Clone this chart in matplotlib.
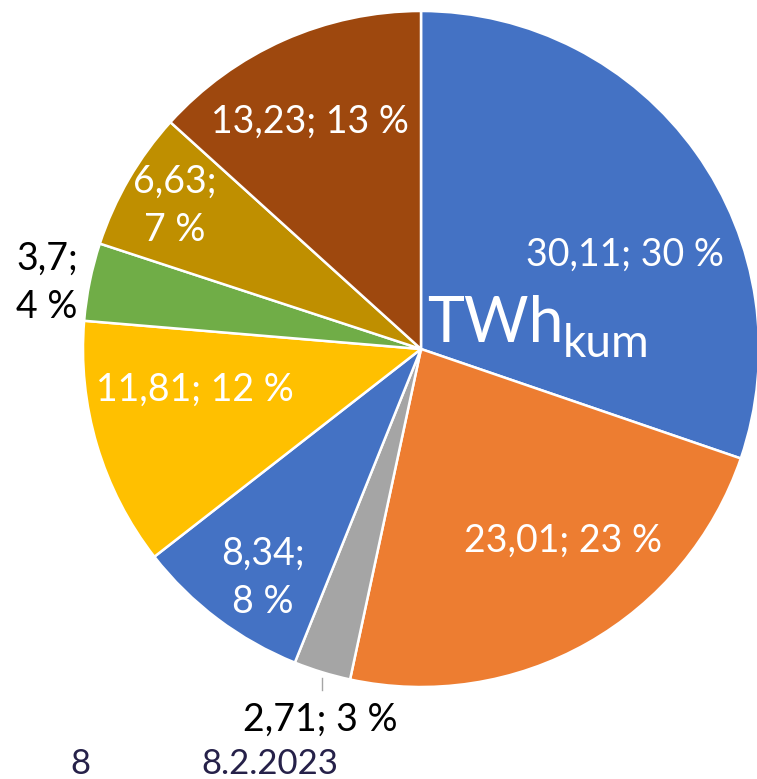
import matplotlib
matplotlib.use("Agg")
import matplotlib.pyplot as plt

values = [30.11, 23.01, 2.71, 8.34, 11.81, 3.7, 6.63, 13.23]
colors = ["#4472C4", "#ED7D31", "#A5A5A5", "#4472C4", "#FFC000", "#70AD47", "#BF8F00", "#9E480E"]
two_line = [False, False, False, True, False, True, True, False]
label_colors = ["white", "white", "black", "white", "white", "black", "white", "white"]
unit_main = "TWh"
unit_sub = "kum"
footer_page = "8"
footer_date = "8.2.2023"

W, H = 757, 779
fig = plt.figure(figsize=(W / 100, H / 100), dpi=100)
ax = fig.add_axes([0, 0, 1, 1])

cx, cy, r = 421, H - 349, 338
ax.pie(values, colors=colors, startangle=90, counterclock=False,
       center=(cx, cy), radius=r, frame=True,
       wedgeprops=dict(edgecolor="white", linewidth=1.8))
ax.set_xlim(0, W)
ax.set_ylim(0, H)
ax.set_aspect("equal")
ax.axis("off")

font = "Lato"
total = sum(values)
positions = [(625, 255), (563, 541), (320, 720), (263, 578), (195, 390), (47, 283), (175, 206), (310, 122)]
for v, tl, c, (px, py) in zip(values, two_line, label_colors, positions):
    num = ("%g" % v).replace(".", ",")
    pct = round(v / total * 100)
    sep = "\n" if tl else " "
    txt = f"{num};{sep}{pct} %"
    ax.text(px, H - py, txt, ha="center", va="center", color=c,
            fontsize=27, family=font, linespacing=1.42)

# leader line for small slice
ax.plot([322, 322], [H - 678, H - 690], color="#A5A5A5", lw=1)

ax.text(427, H - 342, unit_main, ha="left", va="baseline", color="white", fontsize=45, family=font)
ax.text(563, H - 357, unit_sub, ha="left", va="baseline", color="white", fontsize=33, family=font)

ax.text(80, H - 764, footer_page, ha="center", va="center", color="#262149", fontsize=25, family=font)
ax.text(270, H - 764, footer_date, ha="center", va="center", color="#262149", fontsize=25, family=font)

fig.savefig("out.png", dpi=100)
